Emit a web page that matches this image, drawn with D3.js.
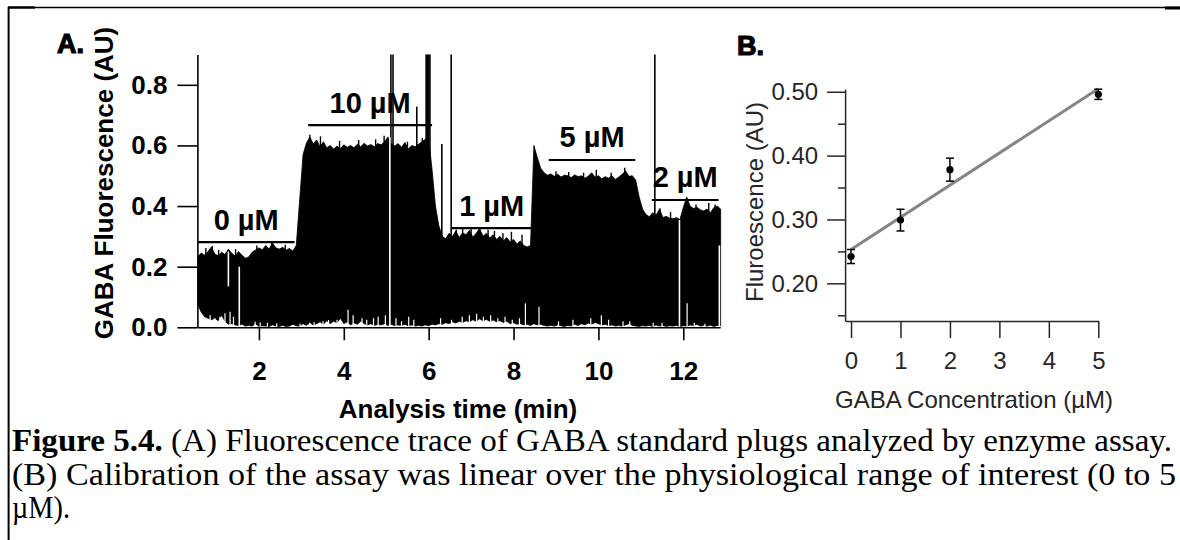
<!DOCTYPE html>
<html>
<head>
<meta charset="utf-8">
<script src="https://cdn.jsdelivr.net/npm/d3@7"></script>
<style>
  html, body { margin: 0; padding: 0; background: #fff; }
  svg { display: block; }
</style>
</head>
<body>
<svg id="fig" width="1180" height="540"></svg>
<script>
// ---------- Panel A: fluorescence trace (sampled every 0.08 min from 0.56 min) ----------
const traceStart = 0.56;
const traceStep = 0.08;
const traceUpper = [
  0.233, 0.245, 0.238, 0.25, 0.265, 0.242, 0.236, 0.248, 0.24, 0.258,
  0.244, 0.235, 0.25, 0.238, 0.228, 0.232, 0.248, 0.255, 0.262, 0.256,
  0.27, 0.258, 0.278, 0.262, 0.258, 0.264, 0.255, 0.26, 0.252, 0.27,
  0.42, 0.57, 0.608, 0.628, 0.605, 0.618, 0.596, 0.612, 0.592, 0.6,
  0.588, 0.598, 0.59, 0.602, 0.594, 0.6, 0.592, 0.604, 0.596, 0.607,
  0.598, 0.603, 0.596, 0.606, 0.602, 0.612, 0.628, 0.605, 0.598, 0.606,
  0.594, 0.61, 0.588, 0.6, 0.596, 0.604, 0.612, 0.62, 0.622, 0.52,
  0.4, 0.335, 0.3, 0.292, 0.31, 0.3, 0.318, 0.296, 0.312, 0.305,
  0.32, 0.298, 0.31, 0.326, 0.3, 0.31, 0.295, 0.305, 0.29, 0.3,
  0.285, 0.296, 0.282, 0.29, 0.275, 0.285, 0.27, 0.265, 0.27, 0.6,
  0.56, 0.525, 0.51, 0.502, 0.506, 0.498, 0.505, 0.496, 0.502, 0.5,
  0.494, 0.503, 0.497, 0.5, 0.492, 0.498, 0.51, 0.495, 0.5, 0.49,
  0.497, 0.492, 0.5, 0.488, 0.496, 0.505, 0.516, 0.498, 0.5, 0.485,
  0.43, 0.39, 0.372, 0.365, 0.378, 0.37, 0.39, 0.362, 0.366, 0.36,
  0.358, 0.362, 0.355, 0.395, 0.43, 0.4, 0.392, 0.396, 0.388, 0.384,
  0.39, 0.378, 0.395, 0.4, 0.39
];
const traceLower = [
  0.075, 0.05, 0.035, 0.03, 0.025, 0.03, 0.022, 0.04, 0.02, 0.01,
  0.012, 0.008, 0.006, 0.01, 0.004, 0.006, 0.004, 0.012, 0.003, 0.005,
  0.004, 0.003, 0.008, 0.004, 0.003, 0.006, 0.003, 0.004, 0.01, 0.005,
  0.004, 0.012, 0.006, 0.015, 0.008, 0.012, 0.018, 0.01, 0.022, 0.012,
  0.02, 0.015, 0.03, 0.012, 0.018, 0.008, 0.015, 0.01, 0.02, 0.012,
  0.008, 0.012, 0.006, 0.01, 0.008, 0.012, 0.006, 0.01, 0.005, 0.008,
  0.006, 0.01, 0.005, 0.008, 0.004, 0.006, 0.004, 0.008, 0.005, 0.01,
  0.008, 0.012, 0.01, 0.015, 0.012, 0.018, 0.014, 0.02, 0.016, 0.022,
  0.018, 0.025, 0.02, 0.028, 0.022, 0.026, 0.02, 0.024, 0.018, 0.022,
  0.016, 0.02, 0.012, 0.015, 0.01, 0.012, 0.008, 0.01, 0.006, 0.012,
  0.008, 0.01, 0.006, 0.004, 0.006, 0.004, 0.008, 0.005, 0.003, 0.006,
  0.004, 0.01, 0.006, 0.012, 0.008, 0.014, 0.01, 0.016, 0.012, 0.008,
  0.01, 0.006, 0.008, 0.004, 0.006, 0.004, 0.008, 0.012, 0.006, 0.004,
  0.003, 0.005, 0.004, 0.006, 0.003, 0.008, 0.004, 0.006, 0.003, 0.005,
  0.004, 0.006, 0.003, 0.005, 0.004, 0.008, 0.005, 0.01, 0.004, 0.006,
  0.004, 0.007, 0.003, 0.006, 0.005
];
// thin upward notches in the trace floor: [time (min), level (AU)]
const floorNotches = [
  [0.85, 0.04], [0.96, 0.03], [1.08, 0.035], [1.2, 0.046], [1.32, 0.051], [1.4, 0.035],
  [1.91, 0.018], [2.03, 0.016], [2.2, 0.015], [2.42, 0.013], [2.97, 0.012], [3.2, 0.015],
  [3.3, 0.017], [3.51, 0.02], [3.64, 0.024], [3.84, 0.025], [3.97, 0.015], [4.1, 0.058],
  [4.22, 0.04], [4.43, 0.03], [4.54, 0.025], [4.7, 0.03], [4.81, 0.035], [4.98, 0.04],
  [5.23, 0.03], [5.36, 0.02], [5.53, 0.035], [5.65, 0.025], [6.28, 0.03], [6.54, 0.025],
  [6.79, 0.035], [6.96, 0.04], [7.13, 0.045], [7.29, 0.035], [7.46, 0.04], [7.63, 0.03],
  [7.8, 0.035], [7.97, 0.025], [8.14, 0.03], [8.28, 0.079], [8.6, 0.068], [9.06, 0.02],
  [9.4, 0.025], [9.82, 0.03], [10.07, 0.04], [10.24, 0.025], [10.58, 0.02], [10.74, 0.02],
  [11.29, 0.015], [11.5, 0.015], [12.09, 0.079], [12.26, 0.015], [12.51, 0.012]
];
// short crests poking above the trace envelope: [time (min), top (AU)]
const crestSpikes = [
  [0.75, 0.262], [0.9, 0.268], [1.05, 0.255], [1.45, 0.258], [1.95, 0.27], [2.3, 0.279], [2.62, 0.272],
  [3.2, 0.635], [3.45, 0.63], [3.9, 0.615], [4.35, 0.618], [4.75, 0.62], [4.95, 0.632], [5.5, 0.612],
  [5.85, 0.625], [6.65, 0.322], [6.8, 0.33], [7.0, 0.325], [7.2, 0.33], [7.4, 0.322], [7.55, 0.318],
  [7.75, 0.31], [7.95, 0.315], [8.2, 0.305], [9.0, 0.515], [9.3, 0.512], [9.65, 0.51], [9.95, 0.52],
  [10.3, 0.51], [10.62, 0.526], [11.45, 0.393], [11.7, 0.38], [12.3, 0.405], [12.6, 0.41], [12.75, 0.405]
];
// white dropouts through the trace: [time (min), from (AU), to (AU)]
const dropouts = [
  [1.28, 0.135, 0.25], [1.537, 0, 0.2], [5.085, 0, 0.627], [11.91, 0, 0.354], [12.85, 0, 0.27]
];
// narrow spikes rising above the trace: [time (min), top (AU)]
const spikes = [
  [5.11, 0.9], [5.16, 0.9], [5.72, 0.728], [5.94, 0.9], [5.97, 0.9], [6.0, 0.9], [6.03, 0.9],
  [6.31, 0.605], [6.53, 0.9], [11.33, 0.9]
];
// GABA standard plugs
const plugLabels = ["0 µM", "10 µM", "1 µM", "5 µM", "2 µM"];
const plugStart = [0.56, 3.16, 6.54, 8.83, 11.26];
const plugEnd = [2.84, 6.08, 8.43, 10.87, 12.83];
const plugLevel = [0.281, 0.667, 0.327, 0.552, 0.42];
const traceYTicks = [0, 0.2, 0.4, 0.6, 0.8];
const traceXTicks = [2, 4, 6, 8, 10, 12];

// ---------- Panel B: calibration ----------
const concentrations = [0, 1, 2, 5];
const meanFluor = [0.242, 0.299, 0.378, 0.496];
const errFluor = [0.011, 0.017, 0.018, 0.008];
const calYTicks = [0.2, 0.3, 0.4, 0.5];
const calYMinor = [0.15, 0.25, 0.35, 0.45];
const calXTicks = [0, 1, 2, 3, 4, 5];

const captionLines = [
  [["Figure 5.4.", true], [" (A) Fluorescence trace of GABA standard plugs analyzed by enzyme assay.", false]],
  [["(B) Calibration of the assay was linear over the physiological range of interest (0 to 5", false]],
  [["µM).", false]]
];

const svg = d3.select("#fig");
const SANS = "'Liberation Sans', Arial, sans-serif";
const SERIF = "'Liberation Serif', Tinos, 'Times New Roman', Times, serif";

// page frame
svg.append("line").attr("x1", 8).attr("x2", 1180).attr("y1", 7.5).attr("y2", 7.5)
  .attr("stroke", "#000").attr("stroke-width", 1.6);
svg.append("line").attr("x1", 8).attr("x2", 35).attr("y1", 7.5).attr("y2", 7.5)
  .attr("stroke", "#000").attr("stroke-width", 2.4);
svg.append("line").attr("x1", 1165).attr("x2", 1180).attr("y1", 8).attr("y2", 8)
  .attr("stroke", "#000").attr("stroke-width", 3);
svg.append("line").attr("x1", 8.6).attr("x2", 8.6).attr("y1", 6.7).attr("y2", 540)
  .attr("stroke", "#000").attr("stroke-width", 2);

// ================= Panel A =================
const xA = d3.scaleLinear().domain([0.55, 12.87]).range([197.4, 720.2]);
const yA = d3.scaleLinear().domain([0, 0.9]).range([327.3, 54.5]);
const traceTime = i => traceStart + i * traceStep;

const gA = svg.append("g");
const area = d3.area()
  .x((d, i) => xA(traceTime(i)))
  .y0((d, i) => yA(traceLower[i]))
  .y1(d => yA(d));
gA.append("path").datum(traceUpper).attr("d", area).attr("fill", "#000")
  .attr("stroke", "#000").attr("stroke-width", 0.8);

gA.selectAll(".crest").data(crestSpikes).join("line")
  .attr("x1", d => xA(d[0])).attr("x2", d => xA(d[0]))
  .attr("y1", d => yA(d[1] - 0.05)).attr("y2", d => yA(d[1]))
  .attr("stroke", "#000").attr("stroke-width", 1.4);

gA.selectAll(".spike").data(spikes).join("line")
  .attr("x1", d => xA(d[0])).attr("x2", d => xA(d[0]))
  .attr("y1", yA(0.2)).attr("y2", d => yA(d[1]))
  .attr("stroke", "#000").attr("stroke-width", 1.6);

gA.selectAll(".notch").data(floorNotches).join("line")
  .attr("x1", d => xA(d[0])).attr("x2", d => xA(d[0]))
  .attr("y1", yA(0) - 0.5).attr("y2", d => yA(d[1]))
  .attr("stroke", "#fff").attr("stroke-width", 1.2);

gA.selectAll(".drop").data(dropouts).join("line")
  .attr("x1", d => xA(d[0])).attr("x2", d => xA(d[0]))
  .attr("y1", d => d[1] === 0 ? yA(0) - 0.5 : yA(d[1])).attr("y2", d => yA(d[2]))
  .attr("stroke", "#fff").attr("stroke-width", 1.6);

// plug brackets and labels
const plugs = plugLabels.map((l, i) => ({ label: l, s: plugStart[i], e: plugEnd[i], v: plugLevel[i] }));
gA.selectAll(".bracket").data(plugs).join("line")
  .attr("x1", d => xA(d.s)).attr("x2", d => xA(d.e))
  .attr("y1", d => yA(d.v)).attr("y2", d => yA(d.v))
  .attr("stroke", "#000").attr("stroke-width", 2.2);
gA.selectAll(".plugLabel").data(plugs).join("text")
  .attr("x", d => (xA(d.s) + xA(d.e)) / 2)
  .attr("y", d => yA(d.v) - 12.5)
  .attr("text-anchor", "middle")
  .attr("font-family", SANS).attr("font-weight", "bold").attr("font-size", 29)
  .text(d => d.label);

// axes
const axAy = gA.append("g").attr("transform", `translate(${xA.range()[0]},0)`)
  .call(d3.axisLeft(yA).tickValues(traceYTicks).tickSize(20).tickSizeOuter(0)
    .tickPadding(10).tickFormat(d3.format(".1f")));
const axAx = gA.append("g").attr("transform", `translate(0,${yA(0)})`)
  .call(d3.axisBottom(xA).tickValues(traceXTicks).tickSize(13).tickSizeOuter(0)
    .tickPadding(21).tickFormat(d3.format("d")));
[axAy, axAx].forEach(a => {
  a.select(".domain").attr("stroke", "#000").attr("stroke-width", 1.6);
  a.selectAll(".tick line").attr("stroke", "#000").attr("stroke-width", 1.6);
  a.selectAll(".tick text").attr("font-family", SANS).attr("font-weight", "bold")
    .attr("font-size", 26).attr("fill", "#000");
});

gA.append("text").attr("transform", "translate(113,183) rotate(-90)")
  .attr("text-anchor", "middle").attr("font-family", SANS).attr("font-weight", "bold")
  .attr("font-size", 26).text("GABA Fluorescence (AU)");
gA.append("text").attr("x", 458).attr("y", 418).attr("text-anchor", "middle")
  .attr("font-family", SANS).attr("font-weight", "bold").attr("font-size", 26)
  .text("Analysis time (min)");
gA.append("text").attr("x", 57).attr("y", 53).attr("font-family", SANS)
  .attr("font-weight", "bold").attr("font-size", 27)
  .attr("stroke", "#000").attr("stroke-width", 1.2).text("A.");

// ================= Panel B =================
const xB = d3.scaleLinear().domain([-0.12, 5]).range([845.1, 1098.3]);
const yB = d3.scaleLinear().domain([0.141, 0.504]).range([321, 89.2]);
const gB = svg.append("g");
const INK = "#262626";

const axBy = gB.append("g").attr("transform", `translate(${xB.range()[0]},0)`)
  .call(d3.axisLeft(yB).tickValues(calYTicks).tickSize(18).tickSizeOuter(0)
    .tickPadding(9).tickFormat(d3.format(".2f")));
const axBm = gB.append("g").attr("transform", `translate(${xB.range()[0]},0)`)
  .call(d3.axisLeft(yB).tickValues(calYMinor).tickSize(7).tickSizeOuter(0).tickFormat(""));
axBm.select(".domain").remove();
const axBx = gB.append("g").attr("transform", `translate(0,${yB.range()[0]})`)
  .call(d3.axisBottom(xB).tickValues(calXTicks).tickSize(17).tickSizeOuter(0)
    .tickPadding(14).tickFormat(d3.format("d")));
[axBy, axBm, axBx].forEach(a => {
  a.select(".domain").attr("stroke", INK).attr("stroke-width", 1.5);
  a.selectAll(".tick line").attr("stroke", INK).attr("stroke-width", 1.5);
  a.selectAll(".tick text").attr("font-family", SANS).attr("font-size", 24).attr("fill", INK);
});

// least-squares calibration line through the standards
const mx = d3.mean(concentrations), my = d3.mean(meanFluor);
const slope = d3.sum(concentrations, (c, i) => (c - mx) * (meanFluor[i] - my)) /
  d3.sum(concentrations, c => (c - mx) * (c - mx));
const intercept = my - slope * mx;
const cMin = d3.min(concentrations), cMax = d3.max(concentrations);
gB.append("line")
  .attr("x1", xB(cMin)).attr("y1", yB(intercept + slope * cMin))
  .attr("x2", xB(cMax)).attr("y2", yB(intercept + slope * cMax))
  .attr("stroke", "#858585").attr("stroke-width", 3);

const pts = concentrations.map((c, i) => ({ c, m: meanFluor[i], e: errFluor[i] }));
const eb = gB.selectAll(".eb").data(pts).join("g");
eb.append("line").attr("x1", d => xB(d.c)).attr("x2", d => xB(d.c))
  .attr("y1", d => yB(d.m - d.e)).attr("y2", d => yB(d.m + d.e))
  .attr("stroke", "#000").attr("stroke-width", 1.5);
eb.append("line").attr("x1", d => xB(d.c) - 4).attr("x2", d => xB(d.c) + 4)
  .attr("y1", d => yB(d.m + d.e)).attr("y2", d => yB(d.m + d.e))
  .attr("stroke", "#000").attr("stroke-width", 1.5);
eb.append("line").attr("x1", d => xB(d.c) - 4).attr("x2", d => xB(d.c) + 4)
  .attr("y1", d => yB(d.m - d.e)).attr("y2", d => yB(d.m - d.e))
  .attr("stroke", "#000").attr("stroke-width", 1.5);
eb.append("circle").attr("cx", d => xB(d.c)).attr("cy", d => yB(d.m)).attr("r", 3.6)
  .attr("fill", "#000");

gB.append("text").attr("transform", "translate(763,202) rotate(-90)")
  .attr("text-anchor", "middle").attr("font-family", SANS).attr("font-size", 24)
  .attr("fill", INK).text("Fluroescence (AU)");
gB.append("text").attr("x", 974).attr("y", 408).attr("text-anchor", "middle")
  .attr("font-family", SANS).attr("font-size", 24).attr("fill", INK)
  .text("GABA Concentration (µM)");
gB.append("text").attr("x", 737).attr("y", 55).attr("font-family", SANS)
  .attr("font-weight", "bold").attr("font-size", 27)
  .attr("stroke", "#000").attr("stroke-width", 1.2).text("B.");

// ================= Caption =================
const capY = [451, 485, 518];
const capLen = [1160, 1164, 58];
captionLines.forEach((parts, i) => {
  const t = svg.append("text").attr("x", 12).attr("y", capY[i])
    .attr("font-family", SERIF).attr("font-size", 31).attr("fill", "#000")
    .attr("textLength", capLen[i]).attr("lengthAdjust", "spacingAndGlyphs");
  parts.forEach(p => t.append("tspan").attr("font-weight", p[1] ? "bold" : "normal").text(p[0]));
});
</script>
</body>
</html>
